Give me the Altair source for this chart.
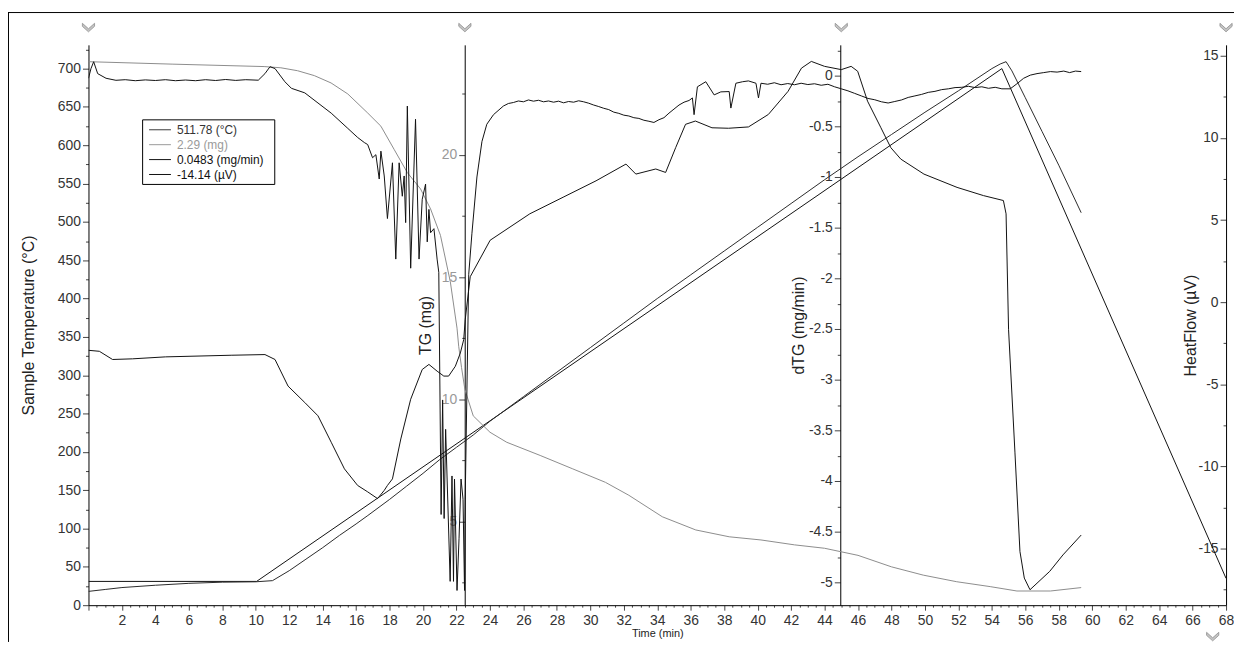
import altair as alt
import pandas as pd

# ---------------- data ----------------
prog_t = [0, 10.05, 54.6, 68]
prog_temp = [31, 31, 700, 35]

samp_t = [0, 1, 2, 4, 6, 8, 10, 11, 12, 13, 14, 15, 16, 16.7, 18, 19, 20, 21, 22, 23, 24, 26, 28,
          30, 32, 34, 36, 38, 40, 42, 44, 46, 48, 50, 52, 54, 54.5, 54.85, 55.2, 56, 57, 58, 59.34]
samp_temp = [18, 20.5, 23, 26, 28.5, 30, 30.5, 32, 45, 60, 75, 91, 106, 117, 138, 155, 172, 190, 206,
             222, 240, 272, 304, 336, 368, 400, 431, 462, 493, 524, 555, 585, 614, 643, 671, 700, 706,
             709, 697, 662, 618, 574, 512]

tg_t = [0, 5, 10.5, 11.5, 12.5, 13.5, 14.5, 15.5, 16.69, 17.48, 18.27, 19.06, 19.85, 20.45, 21.04,
        21.63, 22.03, 22.13, 22.3, 22.5, 23.0, 24.0, 25.0, 27.0, 28.95, 30.9, 32.3, 34.3, 36.3, 38.3,
        40.2, 42.2, 44.0, 46.0, 48.0, 49.9, 51.9, 53.9, 55.5, 57.5, 59.34]
tg_mg = [23.82, 23.72, 23.62, 23.57, 23.45, 23.25, 22.95, 22.5, 21.72, 21.18, 20.23, 19.28, 18.61,
         17.79, 16.71, 14.81, 12.91, 12.17, 11.3, 10.4, 9.32, 8.65, 8.24, 7.7, 7.15, 6.6, 6.07, 5.19,
         4.65, 4.37, 4.24, 4.04, 3.9, 3.61, 3.14, 2.8, 2.53, 2.33, 2.15, 2.15, 2.29]

# (time min, dTG mg/min)
dtg_points = [
    (0, -0.026), (0.15, 0.07), (0.31, 0.137), (0.55, 0.02), (1.05, -0.026), (1.64, -0.046),
    (2.2, -0.04), (2.8, -0.05), (3.4, -0.042), (4.0, -0.048), (4.6, -0.04), (5.2, -0.05),
    (5.8, -0.043), (6.4, -0.05), (7.0, -0.04), (7.6, -0.048), (8.2, -0.038), (8.8, -0.047),
    (9.4, -0.04), (10.15, -0.045), (10.55, 0.02), (10.85, 0.088), (11.15, 0.07), (11.74, -0.06),
    (12.13, -0.125), (12.93, -0.17), (13.72, -0.27), (14.51, -0.37), (15.5, -0.52), (16.09, -0.61),
    (16.49, -0.66), (16.69, -0.68), (16.98, -0.81), (17.18, -0.78), (17.38, -1.02), (17.48, -0.745),
    (17.68, -0.99), (17.87, -1.41), (18.17, -0.86), (18.37, -1.81), (18.57, -0.86), (18.76, -1.19),
    (18.87, -0.99), (18.96, -1.45), (19.06, -0.30), (19.26, -1.90), (19.55, -0.43), (19.76, -1.81),
    (19.95, -1.22), (20.15, -1.07), (20.25, -1.64), (20.35, -1.32), (20.45, -1.55), (20.65, -1.51),
    (20.84, -1.81), (20.94, -1.94), (21.08, -4.33), (21.17, -3.2), (21.26, -4.37), (21.35, -3.49),
    (21.62, -4.99), (21.73, -3.95), (21.82, -4.99), (21.88, -3.98), (22.03, -5.08), (22.15, -4.57),
    (22.27, -3.98), (22.39, -4.18), (22.48, -5.08), (22.52, -4.18), (22.73, -1.96), (22.92, -1.56),
    (23.22, -1.0), (23.52, -0.65), (23.81, -0.48), (24.21, -0.385), (24.8, -0.30), (25.1, -0.275),
    (25.4, -0.265), (25.7, -0.25), (26.0, -0.258), (26.3, -0.24), (26.6, -0.252), (26.9, -0.243),
    (27.2, -0.258), (27.5, -0.25), (27.8, -0.262), (28.1, -0.252), (28.4, -0.268), (28.7, -0.255),
    (29.0, -0.262), (29.3, -0.248), (29.6, -0.258), (29.9, -0.272), (30.2, -0.29), (30.5, -0.305),
    (30.8, -0.322), (31.1, -0.335), (31.4, -0.36), (31.7, -0.372), (32.0, -0.39), (32.3, -0.398),
    (32.6, -0.415), (32.9, -0.422), (33.2, -0.44), (33.5, -0.45), (33.8, -0.462), (34.1, -0.435),
    (34.4, -0.415), (34.7, -0.37), (35.0, -0.33), (35.3, -0.29), (35.6, -0.262), (35.9, -0.245),
    (36.1, -0.22), (36.2, -0.385), (36.4, -0.11), (36.9, -0.06), (37.4, -0.19), (37.8, -0.16),
    (38.3, -0.157), (38.4, -0.32), (38.7, -0.075), (39.1, -0.06), (39.45, -0.052), (39.9, -0.075),
    (40.05, -0.22), (40.2, -0.075), (40.6, -0.085), (41.0, -0.07), (41.4, -0.09), (41.8, -0.078),
    (42.2, -0.09), (42.6, -0.075), (43.0, -0.088), (43.4, -0.08), (43.8, -0.095), (44.2, -0.085),
    (44.6, -0.11), (45.0, -0.13), (45.4, -0.15), (45.8, -0.175), (46.2, -0.2), (46.6, -0.225),
    (47.0, -0.238), (47.4, -0.258), (47.8, -0.27), (48.2, -0.255), (48.6, -0.24), (49.0, -0.215),
    (49.4, -0.2), (49.8, -0.185), (50.2, -0.165), (50.6, -0.155), (51.0, -0.138), (51.4, -0.13),
    (51.8, -0.118), (52.2, -0.115), (52.6, -0.105), (53.0, -0.118), (53.4, -0.11), (53.8, -0.125),
    (54.2, -0.115), (54.6, -0.13), (55.1, -0.13), (55.5, -0.08), (55.9, -0.026), (56.3, 0.005),
    (56.7, 0.02), (57.1, 0.03), (57.5, 0.04), (57.9, 0.035), (58.3, 0.045), (58.65, 0.03),
    (59.0, 0.045), (59.34, 0.04),
]

hf_t = [0, 0.65, 1.44, 2.63, 4.61, 8.57, 10.55, 11.15, 11.93, 12.93, 13.72, 14.51, 15.3, 16.09,
        16.69, 17.28, 17.68, 17.87, 18.17, 18.67, 19.26, 19.95, 20.35, 20.84, 21.24, 21.53, 21.93,
        22.23, 22.43, 22.52, 22.82, 24.01, 26.38, 28.37, 30.34, 32.13, 32.72, 33.91, 34.5, 35.1,
        35.69, 36.28, 37.27, 38.26, 39.45, 40.64, 41.82, 42.62, 43.21, 44.0, 45.0, 45.59, 45.98,
        46.57, 47.37, 47.96, 48.56, 49.94, 51.92, 53.5, 54.69, 54.85, 55.0, 55.38, 55.68, 55.94,
        56.28, 57.46, 58.25, 59.34]
hf_v = [-2.93, -2.99, -3.49, -3.45, -3.33, -3.23, -3.19, -3.49, -5.11, -6.11, -6.92, -8.53, -10.15,
        -11.16, -11.55, -11.96, -11.46, -11.16, -10.76, -8.33, -5.91, -4.10, -3.79, -4.20, -4.50,
        -4.50, -3.90, -3.09, -2.28, -1.07, 1.55, 3.77, 5.38, 6.39, 7.39, 8.41, 7.80, 8.11, 7.90, 9.41,
        10.83, 11.03, 10.62, 10.59, 10.67, 11.43, 12.84, 14.25, 14.66, 14.36, 14.16, 14.36, 14.06,
        12.24, 10.62, 9.41, 8.71, 7.80, 6.99, 6.49, 6.19, 5.38, -1.68, -9.13, -15.18, -16.8, -17.51,
        -16.39, -15.39, -14.18]

legend_labels = ["511.78  (°C)", "2.29  (mg)", "0.0483  (mg/min)", "-14.14  (µV)"]
legend_line_colors = ["#3a3a3a", "#9a9a9a", "#111111", "#111111"]
legend_text_colors = ["#333333", "#9a9a9a", "#111111", "#111111"]

axis_times = [0, 22.5, 45, 68]          # where the four y axes stand
corner_chevron_time = [67.2]

x_tick_values = [i * 0.5 for i in range(0, 137)]
temp_tick_values = [i * 25 for i in range(0, 30)]
tg_tick_values = [i * 2.5 for i in range(1, 10)]
dtg_tick_values = [-5 + i * 0.25 for i in range(0, 22)]
hf_tick_values = [-17.5 + i * 2.5 for i in range(0, 14)]

temp_domain = [0, 731]
tg_domain = [1.57, 24.51]
dtg_domain = [-5.225, 0.304]
hf_domain = [-18.45, 15.67]

# ---------------- layout ----------------
W, H = 1145, 564
FONT = "Liberation Sans"
TG_OFF = -378.7
DTG_OFF = -756.7
HF_OFF = -1145

x_axis = alt.Axis(
    values=x_tick_values,
    labelExpr="datum.value >= 2 && datum.value % 2 === 0 ? ('' + datum.value) : ''",
    tickSize={"condition": {"test": "datum.value % 2 === 0", "value": 5}, "value": 2},
    title="Time (min)", titleFontSize=11, titlePadding=1, titleFont=FONT,
    titleFontWeight="normal", titleColor="#222",
    labelFont=FONT, labelFontSize=14, labelColor="#333", labelPadding=3,
    labelFlush=False, labelOverlap=False,
    domainColor="#000", tickColor="#444", grid=False,
)
x_enc = alt.X("t:Q", scale=alt.Scale(domain=[0, 68], nice=False, zero=False), axis=x_axis)


def y_axis(values, label_expr, major_test, title, offset, label_color, title_pad):
    return alt.Axis(
        orient="left", offset=offset, values=values, labelExpr=label_expr,
        tickSize={"condition": {"test": major_test, "value": 6}, "value": 3},
        title=title, titleFont=FONT, titleFontSize=16, titleFontWeight="normal",
        titleColor="#222", titlePadding=title_pad,
        labelFont=FONT, labelFontSize=14, labelColor=label_color, labelPadding=2,
        labelOverlap=False, labelFlush=False,
        domainColor="#000", tickColor="#444", grid=False,
    )


temp_axis = y_axis(temp_tick_values, "datum.value % 50 === 0 ? datum.label : ''",
                   "datum.value % 50 === 0", "Sample Temperature (°C)", 0, "#333", 21)
tg_axis = y_axis(tg_tick_values, "datum.value % 5 === 0 ? datum.label : ''",
                 "datum.value % 5 === 0", "TG (mg)", TG_OFF, "#999", 8)
dtg_axis = y_axis(dtg_tick_values,
                  "abs(datum.value*2 - round(datum.value*2)) < 0.001 ? ('' + datum.value) : ''",
                  "abs(datum.value*2 - round(datum.value*2)) < 0.001", "dTG (mg/min)", DTG_OFF,
                  "#333", 2)
hf_axis = y_axis(hf_tick_values, "datum.value % 5 === 0 ? ('' + datum.value) : ''",
                 "datum.value % 5 === 0", "HeatFlow (µV)", HF_OFF, "#333", 0)


def series(t, v):
    return pd.DataFrame({"t": t, "v": v})


def line_layer(df, color, domain, axis):
    return alt.Chart(df).mark_line(color=color, strokeWidth=1, clip=True).encode(
        x=x_enc,
        y=alt.Y("v:Q", scale=alt.Scale(domain=domain, nice=False, zero=False), axis=axis),
    )


program = line_layer(series(prog_t, prog_temp), "#111111", temp_domain, None)
sample = line_layer(series(samp_t, samp_temp), "#2a2a2a", temp_domain, temp_axis)
tg = line_layer(series(tg_t, tg_mg), "#8c8c8c", tg_domain, tg_axis)
dtg = line_layer(series([p[0] for p in dtg_points], [p[1] for p in dtg_points]),
                 "#111111", dtg_domain, dtg_axis)
hf = line_layer(series(hf_t, hf_v), "#111111", hf_domain, hf_axis)

one = pd.DataFrame({"a": [0]})

# frame around the whole figure
frame_top = alt.Chart(one).mark_rule(color="#000", strokeWidth=1).encode(
    x=alt.value(-81), x2=alt.value(1160), y=alt.value(-32.5))
frame_left = alt.Chart(one).mark_rule(color="#000", strokeWidth=1).encode(
    x=alt.value(-80.5), y=alt.value(-33), y2=alt.value(601))

chevron_path = "M -1 -0.6 L 0 0.3 L 1 -0.6 L 1 -0.1 L 0 0.8 L -1 -0.1 Z"
chev_top = alt.Chart(pd.DataFrame({"t": axis_times})).mark_point(
    shape=chevron_path, size=150, filled=True, fill="#c4c4c4", stroke="#8f8f8f",
    strokeWidth=0.8, opacity=1).encode(x=x_enc, y=alt.value(-18))
chev_corner = alt.Chart(pd.DataFrame({"t": corner_chevron_time})).mark_point(
    shape=chevron_path, size=150, filled=True, fill="#c4c4c4", stroke="#8f8f8f",
    strokeWidth=0.8, opacity=1).encode(x=x_enc, y=alt.value(595))

# legend box
leg_box = alt.Chart(one).mark_rect(fill="white", stroke="#000", strokeWidth=1).encode(
    x=alt.value(54.5), x2=alt.value(187.5), y=alt.value(75.5), y2=alt.value(140.5))
leg_layers = [leg_box]
row_y = [85.5, 100.5, 115.5, 130.5]
for i, lab in enumerate(legend_labels):
    leg_layers.append(alt.Chart(one).mark_rule(color=legend_line_colors[i], strokeWidth=1).encode(
        x=alt.value(61), x2=alt.value(83), y=alt.value(row_y[i])))
    leg_layers.append(alt.Chart(one).mark_text(
        text=lab, align="left", baseline="middle", font=FONT, fontSize=12,
        color=legend_text_colors[i]).encode(x=alt.value(89), y=alt.value(row_y[i] + 0.5)))

chart = alt.layer(
    program, sample, tg, dtg, hf, frame_top, frame_left, chev_top, chev_corner, *leg_layers
).resolve_scale(y="independent").properties(
    width=W, height=H,
    autosize=alt.AutoSizeParams(type="none"),
    padding={"left": 81, "top": 35, "right": 8, "bottom": 37},
    background="white",
).configure_view(stroke=None)

chart.save("out.html", embed_options={"renderer": "svg", "actions": False})
